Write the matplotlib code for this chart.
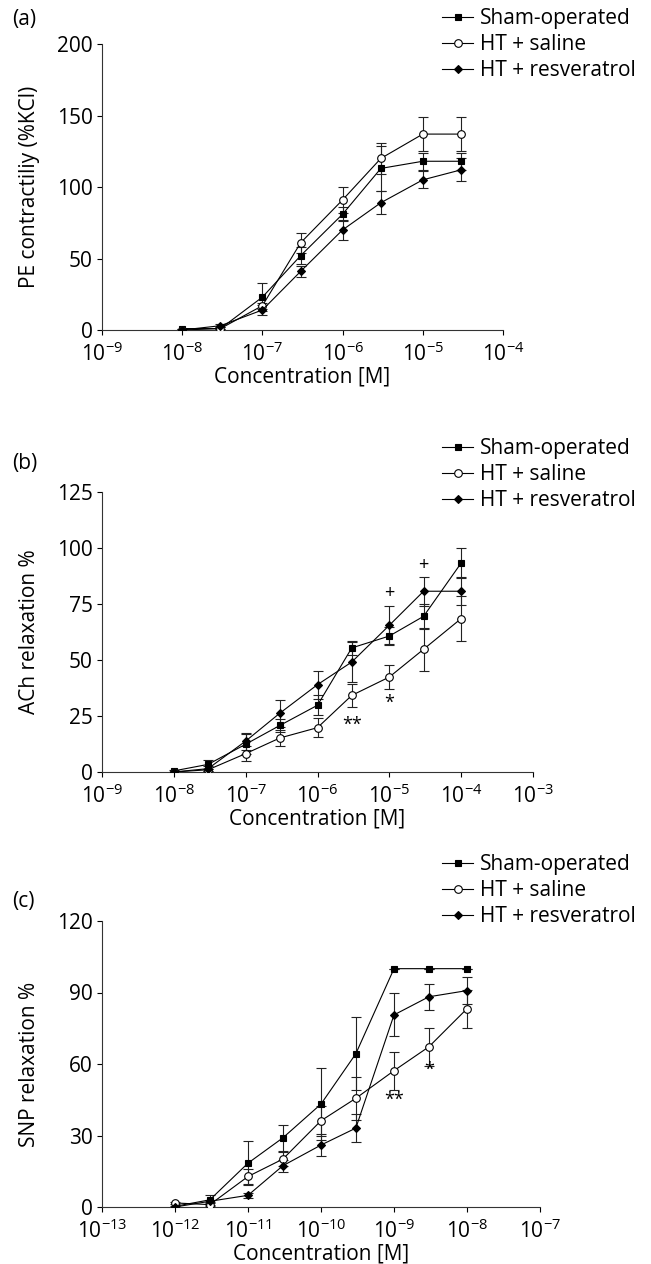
#!/usr/bin/env python3

# Concentration-response curves for three groups (PE, ACh, SNP).
# Output: out.png

import matplotlib
matplotlib.use('Agg')
import matplotlib.pyplot as plt

plt.rcParams['font.family'] = ['Open Sans', 'DejaVu Sans']
plt.rcParams['mathtext.fontset'] = 'custom'
plt.rcParams['mathtext.rm'] = 'Open Sans'

labels = ['Sham-operated', 'HT + saline', 'HT + resveratrol']

# (a) PE contractility
pe_conc = [1e-8, 3e-8, 1e-7, 3e-7, 1e-6, 3e-6, 1e-5, 3e-5]
pe_sham = [1, 1, 23, 52, 81, 113, 118, 118]
pe_sham_err = [0, 1, 10, 6, 5, 16, 6, 6]
pe_saline = [0, 1, 17, 61, 91, 120, 137, 137]
pe_saline_err = [0, 0, 2, 7, 9, 11, 12, 12]
pe_resv = [0, 3, 14, 41, 70, 89, 105, 112]
pe_resv_err = [0, 1, 3.5, 4, 7, 8, 6, 8]

# (b) ACh relaxation
ach_conc = [1e-8, 3e-8, 1e-7, 3e-7, 1e-6, 3e-6, 1e-5, 3e-5, 1e-4]
ach_sham = [0.5, 3.4, 12.4, 20.8, 29.8, 55.4, 60.7, 69.5, 93.3]
ach_sham_err = [0.5, 2, 4.5, 3, 4.5, 3, 4, 5.5, 6.5]
ach_saline = [0, 1, 8.2, 15.2, 19.8, 34.2, 42.4, 54.8, 68.5]
ach_saline_err = [0, 0.5, 3.5, 3.5, 4.3, 5, 5.5, 9.5, 10]
ach_resv = [0, 1.5, 13.8, 26.3, 39, 49.1, 65.5, 80.7, 80.7]
ach_resv_err = [0, 1, 3.8, 6, 6.2, 9, 8.5, 6.5, 6.3]
ach_marks = [(1e-5, 80, '+'), (3e-5, 92.5, '+'), (3e-6, 21, '**'), (1e-5, 31, '*')]

# (c) SNP relaxation
snp_conc = [1e-12, 3e-12, 1e-11, 3e-11, 1e-10, 3e-10, 1e-9, 3e-9, 1e-8]
snp_sham = [0.3, 3, 18.4, 29, 43.2, 64.3, 100, 100, 100]
snp_sham_err = [0.3, 2, 9.2, 5.3, 15, 15.3, 0, 0, 0]
snp_saline = [1.7, 1, 12.8, 20.1, 36.2, 45.6, 57.2, 67.2, 83.2]
snp_saline_err = [0.3, 0.5, 3.2, 3, 6.2, 9, 8, 8, 8]
snp_resv = [0, 2.4, 4.9, 17.3, 26, 33.1, 80.6, 88.2, 90.8]
snp_resv_err = [0, 0.5, 1, 2.5, 4.7, 6, 9, 5.4, 5.5]
snp_marks = [(1e-9, 45, '**'), (3e-9, 57.5, '*')]

# rect = (left, top, right, bottom) of the axes in pixels
panels = [
  dict(tag='(a)', conc=pe_conc,
       series=[(pe_sham, pe_sham_err), (pe_saline, pe_saline_err), (pe_resv, pe_resv_err)],
       ylabel='PE contractiliy (%KCl)', xlim=(1e-9, 1e-4), ylim=(0, 200), ystep=50,
       marks=[], rect=(102, 44, 503, 330), tag_y=20, leg_y=8),
  dict(tag='(b)', conc=ach_conc,
       series=[(ach_sham, ach_sham_err), (ach_saline, ach_saline_err), (ach_resv, ach_resv_err)],
       ylabel='ACh relaxation %', xlim=(1e-9, 1e-3), ylim=(0, 125), ystep=25,
       marks=ach_marks, rect=(102, 492, 533, 772), tag_y=463, leg_y=438),
  dict(tag='(c)', conc=snp_conc,
       series=[(snp_sham, snp_sham_err), (snp_saline, snp_saline_err), (snp_resv, snp_resv_err)],
       ylabel='SNP relaxation %', xlim=(1e-13, 1e-7), ylim=(0, 120), ystep=30,
       marks=snp_marks, rect=(102, 921, 540, 1207), tag_y=902, leg_y=854),
]

styles = [
  dict(marker='s', markersize=5, markerfacecolor='black'),
  dict(marker='o', markersize=5.5, markerfacecolor='white'),
  dict(marker='D', markersize=4, markerfacecolor='black'),
]

W, H = 651, 1264
fig = plt.figure(figsize=(W / 100, H / 100), dpi=100)

for p in panels:
  x0, y0, x1, y1 = p['rect']
  ax = fig.add_axes([x0 / W, 1 - y1 / H, (x1 - x0) / W, (y1 - y0) / H])
  handles = []
  for (vals, errs), st, lbl in zip(p['series'], styles, labels):
    ax.errorbar(p['conc'], vals, yerr=errs, fmt='none', ecolor='#222222',
                elinewidth=0.8, capsize=3.5, capthick=0.8, zorder=2)
    h, = ax.plot(p['conc'], vals, color='black', linewidth=0.8,
                 markeredgecolor='black', markeredgewidth=0.8, label=lbl,
                 zorder=3, **st)
    handles.append(h)

  for mx, my, mt in p['marks']:
    ax.text(mx, my, mt, ha='center', va='center', fontsize=13)

  ax.set_xscale('log')
  ax.set_xlim(*p['xlim'])
  ax.set_ylim(*p['ylim'])
  ax.set_yticks(range(p['ylim'][0], p['ylim'][1] + 1, p['ystep']))
  ax.minorticks_off()
  ax.spines['top'].set_visible(False)
  ax.spines['right'].set_visible(False)
  for s in ['left', 'bottom']:
    ax.spines[s].set_linewidth(0.8)
    ax.spines[s].set_color('#333333')
  ax.tick_params(direction='out', length=3.6, width=0.8, labelsize=15, pad=3)
  ax.tick_params(axis='x', pad=5)
  ax.set_xlabel('Concentration [M]', fontsize=15, labelpad=1)
  ax.set_ylabel(p['ylabel'], fontsize=15, labelpad=12)

  fig.text(12 / W, 1 - p['tag_y'] / H, p['tag'], fontsize=15, va='center', ha='left')
  ax.legend(handles=handles, loc='upper left', bbox_to_anchor=(442 / W, 1 - p['leg_y'] / H),
            bbox_transform=fig.transFigure, frameon=False, fontsize=15,
            handlelength=1.5, handletextpad=0.3, labelspacing=0.25, borderpad=0,
            borderaxespad=0)

fig.savefig('out.png', dpi=100)
